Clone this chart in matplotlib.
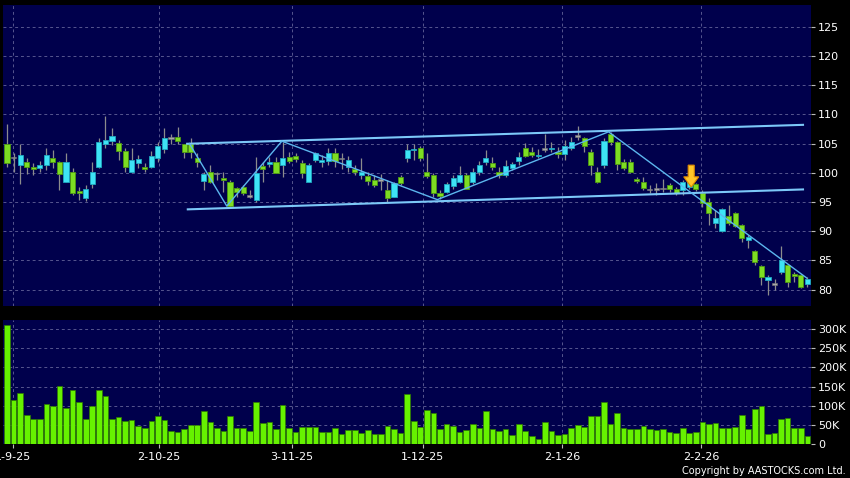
import matplotlib
matplotlib.use("Agg")
import matplotlib.pyplot as plt
from matplotlib.patches import Polygon
import numpy as np

# ---------------- data ----------------
opens = [105.0, 102.6, 101.4, 101.8, 100.9, 100.8, 101.3, 102.5, 101.9, 98.5,
         100.2, 96.9, 95.6, 98.0, 101.0, 104.9, 105.5, 105.1, 103.8, 100.2,
         101.6, 100.9, 100.9, 102.5, 104.1, 105.9, 106.1, 105.0, 104.86, 102.46,
         98.58, 100.06, 99.89, 99.04, 98.46, 97.44, 97.5, 96.07, 95.33, 101.2,
         101.5, 101.9, 101.32, 102.63, 102.92, 101.72, 98.46, 102.17, 101.9, 102.0,
         103.3, 102.46, 100.9, 100.6, 99.6, 99.4, 98.75, 98.75, 97.0, 95.9,
         99.3, 102.46, 103.9, 104.3, 100.06, 99.6, 96.5, 96.75, 97.7, 98.46,
         99.6, 98.35, 100.18, 101.89, 101.6, 100.18, 99.61, 100.75, 102.06, 104.17,
         103.6, 102.86, 104.05, 104.0, 103.6, 103.2, 104.17, 106.3, 106.0, 103.6,
         100.18, 101.32, 106.7, 105.2, 101.89, 101.89, 98.87, 98.34, 97.15, 97.2,
         97.3, 97.95, 97.15, 97.03, 97.6, 98.06, 96.58, 95.03, 91.44, 90.07,
         92.58, 93.04, 91.04, 88.47, 86.58, 84.0, 81.62, 80.95, 83.05, 84.2,
         82.65, 82.48, 80.94]
highs = [108.3, 103.4, 104.9, 102.6, 101.6, 102.0, 104.2, 103.9, 102.0, 103.3,
         100.8, 97.6, 97.9, 101.9, 106.0, 109.7, 107.6, 105.6, 104.2, 104.2,
         103.0, 101.6, 103.7, 105.3, 107.6, 106.6, 107.9, 105.0, 105.9, 103.32,
         100.18, 101.32, 100.18, 100.18, 98.75, 97.61, 97.89, 97.04, 102.75, 101.9,
         102.75, 102.75, 105.3, 103.6, 103.3, 102.17, 101.6, 103.6, 103.0, 104.2,
         104.3, 103.3, 102.9, 101.4, 102.5, 100.2, 99.6, 99.7, 98.75, 98.46,
         99.6, 105.0, 105.0, 104.6, 103.3, 99.9, 97.0, 98.46, 99.6, 101.2,
         99.9, 100.75, 102.0, 103.89, 102.75, 101.03, 102.18, 101.9, 103.6, 105.14,
         104.46, 104.0, 106.62, 105.3, 104.46, 105.6, 106.17, 108.0, 106.17, 104.0,
         101.03, 105.9, 106.97, 105.37, 102.3, 102.3, 99.2, 99.3, 97.9, 98.2,
         98.9, 98.2, 97.5, 98.74, 99.0, 98.3, 97.03, 95.6, 93.6, 93.9,
         94.46, 93.3, 91.2, 89.3, 86.76, 84.2, 82.48, 81.9, 87.44, 84.47,
         83.05, 82.76, 82.2]
lows = [100.9, 100.2, 98.0, 99.7, 99.6, 100.2, 100.5, 100.8, 97.0, 98.4,
        96.2, 95.3, 95.2, 97.4, 100.8, 104.2, 104.7, 102.2, 100.1, 100.1,
        100.8, 100.1, 100.8, 101.9, 103.3, 105.0, 105.0, 102.5, 102.46, 101.04,
        97.04, 98.18, 98.75, 96.75, 94.18, 95.9, 96.18, 95.61, 95.04, 98.46,
        101.04, 99.9, 99.32, 101.6, 101.9, 99.04, 98.35, 101.9, 101.0, 101.3,
        101.0, 100.7, 100.2, 99.6, 99.0, 97.9, 97.6, 97.0, 95.0, 95.9,
        97.9, 101.9, 102.2, 102.0, 99.04, 95.9, 95.5, 96.5, 97.3, 98.18,
        97.2, 98.0, 99.6, 101.32, 100.46, 99.04, 99.32, 100.46, 101.32, 102.63,
        102.75, 102.46, 103.6, 103.6, 102.46, 102.18, 103.89, 105.6, 103.6, 99.61,
        98.18, 100.75, 104.8, 100.46, 100.46, 99.9, 98.3, 97.0, 96.5, 96.2,
        96.7, 96.75, 96.2, 96.2, 97.3, 96.9, 94.06, 91.04, 90.47, 89.9,
        91.04, 90.75, 88.2, 87.04, 84.19, 80.77, 79.05, 80.0, 82.65, 80.48,
        81.34, 80.36, 80.48]
closes = [101.7, 102.6, 103.0, 101.0, 100.6, 101.4, 103.0, 101.9, 99.7, 101.8,
          96.5, 96.5, 97.3, 100.2, 105.2, 105.6, 106.3, 103.8, 100.9, 102.1,
          102.3, 100.6, 102.8, 104.5, 105.9, 105.9, 105.5, 103.6, 103.6, 101.78,
          99.72, 98.35, 99.89, 98.69, 94.29, 96.64, 96.47, 96.07, 100.0, 100.58,
          101.9, 100.0, 102.46, 102.0, 102.29, 99.89, 101.32, 103.32, 102.2, 103.3,
          102.0, 102.46, 102.2, 100.1, 100.2, 98.6, 97.9, 98.75, 95.6, 98.2,
          98.2, 103.9, 104.1, 102.46, 99.5, 96.5, 96.0, 98.0, 99.04, 99.6,
          97.3, 100.06, 101.4, 102.46, 100.92, 99.61, 101.15, 101.43, 102.63, 102.86,
          103.03, 103.09, 104.05, 104.2, 103.2, 104.57, 105.3, 106.3, 104.57, 101.32,
          98.46, 105.37, 105.26, 101.5, 100.75, 100.18, 98.64, 97.32, 97.15, 97.1,
          97.3, 97.15, 96.46, 98.34, 98.74, 97.15, 94.75, 93.15, 92.18, 93.72,
          91.32, 90.87, 88.76, 88.93, 84.76, 82.08, 82.19, 81.05, 85.05, 81.34,
          82.3, 80.48, 81.9]
volumes_k = [311, 115, 134, 76, 66, 66, 104, 98, 151, 95,
             141, 110, 65, 98, 141, 126, 66, 71, 61, 63,
             48, 43, 60, 72, 62, 35, 31, 39, 50, 49,
             87, 58, 41, 35, 73, 42, 41, 34, 109, 55,
             58, 40, 102, 41, 32, 45, 44, 45, 31, 31,
             43, 26, 36, 37, 30, 36, 26, 26, 47, 40,
             30, 130, 60, 45, 88, 82, 40, 51, 46, 32,
             37, 52, 43, 86, 40, 33, 39, 24, 52, 33,
             22, 14, 58, 34, 23, 25, 42, 50, 45, 72,
             72, 110, 53, 81, 41, 39, 39, 47, 40, 36,
             39, 32, 29, 41, 29, 31, 57, 51, 55, 41,
             41, 44, 75, 39, 92, 100, 25, 29, 66, 69,
             41, 41, 20]

date_labels = ["1-9-25", "2-10-25", "3-11-25", "1-12-25", "2-1-26", "2-2-26"]
date_pos = [0.9, 23.1, 43.4, 63.4, 84.6, 105.8]

price_ticks = [80, 85, 90, 95, 100, 105, 110, 115, 120, 125]
vol_ticks = [0, 50, 100, 150, 200, 250, 300]
vol_labels = ["0", "50K", "100K", "150K", "200K", "250K", "300K"]

# trend lines (x = bar index, y = price)
upper_x = [27.3, 121.5]
upper_y = [104.95, 108.2]
lower_x = [27.4, 121.5]
lower_y = [93.73, 97.15]
zig_x = [27.8, 33.5, 41.9, 65.6, 91.7, 121.9]
zig_y = [105.0, 94.3, 105.4, 95.4, 107.0, 82.0]

arrow_x = 104.3
arrow_top = 101.3
arrow_tip = 97.55

# ---------------- style ----------------
BG = '#00004C'
GRID = '#56568F'
CYAN = '#3EE3F5'
CYAN_E = '#1FA9C0'
GREEN = '#7DDD22'
GREEN_E = '#4E9A12'
GRAY = '#A8A8A8'
WICK = '#8C8C8C'
VOL = '#66F200'
VOL_E = '#2E7A00'
LINE = '#5CB6EE'

W, H = 850, 478
fig = plt.figure(figsize=(W / 100, H / 100), dpi=100, facecolor='black')
ax1 = fig.add_axes([3 / W, 1 - 306 / H, (811 - 3) / W, (306 - 5) / H])
ax2 = fig.add_axes([3 / W, 1 - 444 / H, (811 - 3) / W, (444 - 320) / H])

n = len(opens)
x = np.arange(n)
o = np.array(opens); c = np.array(closes); hi = np.array(highs); lo = np.array(lows)

for ax in (ax1, ax2):
    ax.set_facecolor(BG)
    for s in ax.spines.values():
        s.set_visible(False)
    ax.set_xlim(-0.61, 122.56)
    ax.yaxis.tick_right()
    ax.tick_params(axis='y', direction='out', length=3, width=0.8, color='#bbbbbb',
                   labelcolor='white', labelsize=8, pad=2)
    ax.set_xticks(date_pos)
    ax.grid(True, color=GRID, linestyle=(0, (3, 3)), linewidth=0.7)
    ax.set_axisbelow(True)

# price panel
ax1.set_ylim(77.2, 128.7)
ax1.set_yticks(price_ticks)
ax1.set_yticklabels([str(t) for t in price_ticks])
ax1.tick_params(axis='x', length=0, labelbottom=False)

ax1.vlines(x, lo, hi, color=WICK, linewidth=0.9, zorder=2)
body_w = 0.78
for i in range(n):
    diff = c[i] - o[i]
    if abs(diff) < 0.15:
        ax1.bar(x[i], 0.28, bottom=o[i] - 0.14, width=body_w, color=GRAY,
                edgecolor='#777777', linewidth=0.4, zorder=3)
    elif diff > 0:
        ax1.bar(x[i], diff, bottom=o[i], width=body_w, color=CYAN,
                edgecolor=CYAN_E, linewidth=0.6, zorder=3)
    else:
        ax1.bar(x[i], -diff, bottom=c[i], width=body_w, color=GREEN,
                edgecolor=GREEN_E, linewidth=0.6, zorder=3)

ax1.plot(upper_x, upper_y, color='#7CC8F8', linewidth=1.5, zorder=4, solid_capstyle='butt')
ax1.plot(lower_x, lower_y, color='#7CC8F8', linewidth=1.5, zorder=4, solid_capstyle='butt')
ax1.plot(zig_x, zig_y, color=LINE, linewidth=1.0, zorder=4)

# arrow marker
sw, hw, head_top = 0.46, 1.14, arrow_tip + 1.75
arrow_pts = [(arrow_x - sw, arrow_top), (arrow_x + sw, arrow_top), (arrow_x + sw, head_top),
             (arrow_x + hw, head_top), (arrow_x, arrow_tip), (arrow_x - hw, head_top),
             (arrow_x - sw, head_top)]
ax1.add_patch(Polygon(arrow_pts, closed=True, facecolor='#FFC628', edgecolor='#E08A00',
                      linewidth=0.8, zorder=6))

# volume panel
ax2.set_ylim(0, 324)
ax2.bar(x, volumes_k, width=0.86, color=VOL, edgecolor=VOL_E, linewidth=0.5, zorder=3)
ax2.set_yticks(vol_ticks)
ax2.set_yticklabels(vol_labels)
ax2.set_xticklabels(date_labels)
ax2.tick_params(axis='x', direction='out', length=3, width=0.8, color='#bbbbbb',
                labelcolor='white', labelsize=8, pad=3)

fig.text(846 / W, 1 - 471 / H, "Copyright by AASTOCKS.com Ltd.", color='white',
         fontsize=7, ha='right', va='center')

fig.savefig("out.png", dpi=100, facecolor='black')
